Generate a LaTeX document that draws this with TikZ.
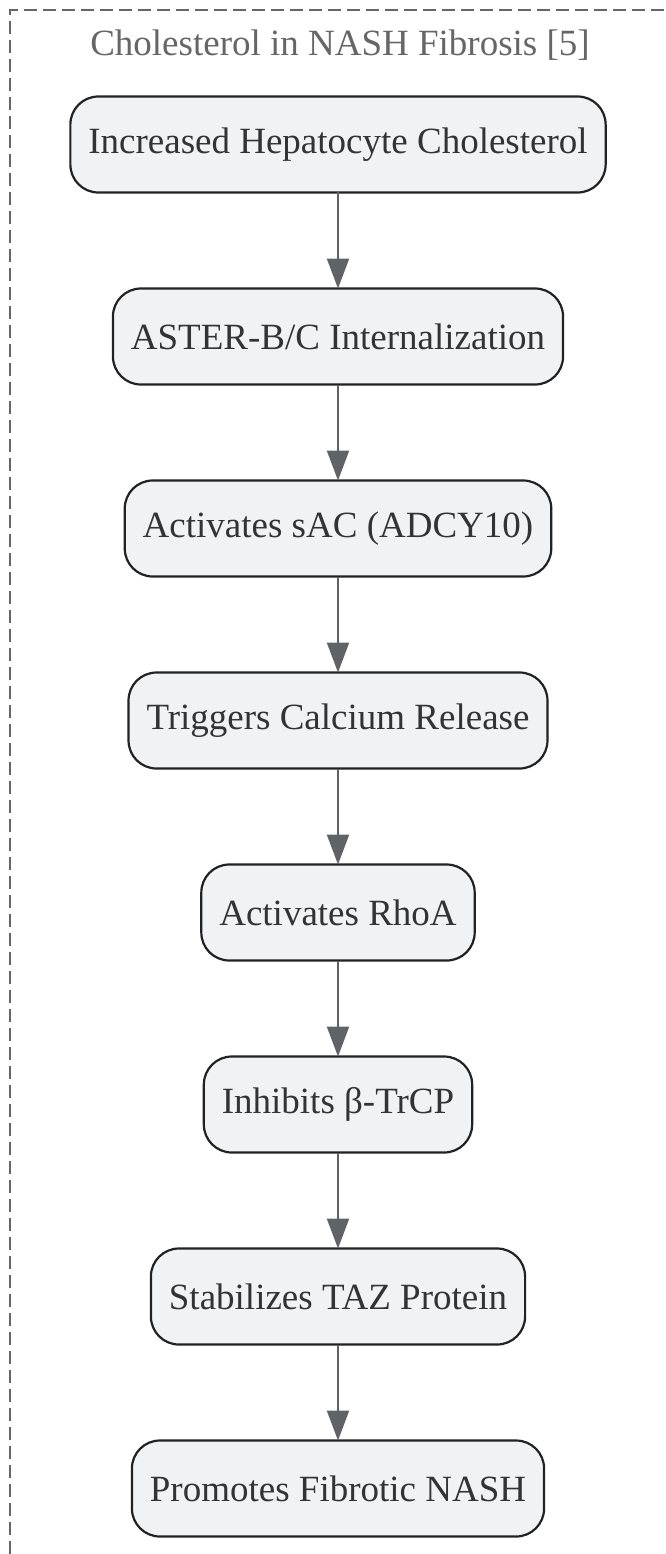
\documentclass[tikz,border=0pt]{standalone}
\usepackage{fontspec}
\setmainfont{Liberation Serif}
\usetikzlibrary{positioning, arrows.meta}
\definecolor{BoxFill}{HTML}{F1F2F4}
\definecolor{BoxLine}{HTML}{222222}
\definecolor{TextDark}{HTML}{333333}
\definecolor{ArrowGray}{HTML}{5F6368}
\definecolor{TitleGray}{HTML}{666666}
\definecolor{FrameGray}{HTML}{666666}

\begin{document}
\begin{tikzpicture}[x=1pt, y=1pt, font=\fontsize{37}{44}\selectfont,
    stepbox/.style={draw=BoxLine, fill=BoxFill, text=TextDark, line width=2.2pt, rounded corners=28pt,
      minimum height=96pt, inner xsep=18pt, inner ysep=0pt, outer sep=0pt},
    flow/.style={draw=ArrowGray, line width=2.2pt, -{Triangle[length=30pt, width=22pt]}},
    node distance=96pt]
  \useasboundingbox (0,0) rectangle (665,-1554);

  % Cluster frame
  \draw[FrameGray, line width=2.5pt, dash pattern=on 13pt off 6pt] (10,-1554) -- (10,-10) -- (665,-10);
  \node[text=TitleGray] (title) at (340,-45) {Cholesterol in NASH Fibrosis [5]};

  % Steps
  \node[stepbox] (chol) at (338,-144.5) {Increased Hepatocyte Cholesterol};
  \node[stepbox, below=of chol] (aster) {ASTER-B/C Internalization};
  \node[stepbox, below=of aster] (sac) {Activates sAC (ADCY10)};
  \node[stepbox, below=of sac] (calcium) {Triggers Calcium Release};
  \node[stepbox, below=of calcium] (rhoa) {Activates RhoA};
  \node[stepbox, below=of rhoa] (trcp) {Inhibits β-TrCP};
  \node[stepbox, below=of trcp] (taz) {Stabilizes TAZ Protein};
  \node[stepbox, below=of taz] (nash) {Promotes Fibrotic NASH};

  % Arrows
  \draw[flow] (chol) -- (aster);
  \draw[flow] (aster) -- (sac);
  \draw[flow] (sac) -- (calcium);
  \draw[flow] (calcium) -- (rhoa);
  \draw[flow] (rhoa) -- (trcp);
  \draw[flow] (trcp) -- (taz);
  \draw[flow] (taz) -- (nash);
\end{tikzpicture}
\end{document}
